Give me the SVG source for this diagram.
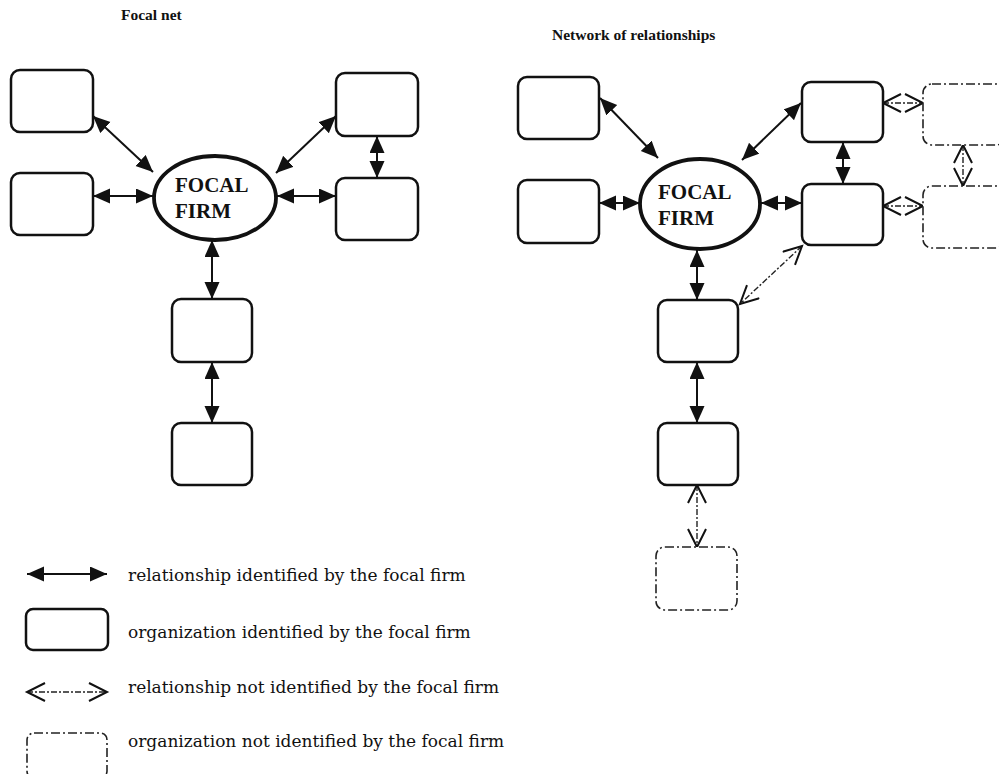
<svg xmlns="http://www.w3.org/2000/svg" width="999" height="774" viewBox="0 0 999 774">
  <defs>
    <style>
      .org { fill: #fff; stroke: #111; stroke-width: 2.5; }
      .ext { fill: #fff; stroke: #222; stroke-width: 1.6; stroke-dasharray: 9 3 2 3; }
      .focal { fill: #fff; stroke: #111; stroke-width: 3.8; }
      .rel { stroke: #111; stroke-width: 2; fill: none; marker-start: url(#solidHead); marker-end: url(#solidHead); }
      .ghost { stroke: #222; stroke-width: 1.4; fill: none; stroke-dasharray: 6 2 2 2; marker-start: url(#openHead); marker-end: url(#openHead); }
      .title { font-family: "Liberation Serif", "Times New Roman", serif; font-weight: bold; font-size: 15.5px; fill: #111; }
      .firm { font-family: "Liberation Serif", "Times New Roman", serif; font-weight: bold; font-size: 21px; fill: #111; }
      .legend { font-family: "DejaVu Serif", "Liberation Serif", serif; font-size: 17px; fill: #111; }
    </style>
    <!-- filled head for identified relationships -->
    <marker id="solidHead" markerUnits="userSpaceOnUse" markerWidth="18" markerHeight="16" refX="17" refY="7.5" orient="auto-start-reverse">
      <path d="M0,0 L17,7.5 L0,15 z" fill="#111"/>
    </marker>
    <!-- open chevron head for relationships outside the focal view -->
    <marker id="openHead" markerUnits="userSpaceOnUse" markerWidth="22" markerHeight="22" refX="19" refY="10" orient="auto-start-reverse">
      <path d="M1,1 L19,10 L1,19" fill="none" stroke="#111" stroke-width="2"/>
    </marker>
  </defs>

  <!-- headings -->
  <text class="title" x="121" y="20">Focal net</text>
  <text class="title" x="552" y="40">Network of relationships</text>

  <!-- connectors -->
  <g id="connectors">
    <!-- focal net -->
    <line class="rel" x1="93" y1="116" x2="153" y2="172"/>
    <line class="rel" x1="93" y1="196" x2="153" y2="196"/>
    <line class="rel" x1="276" y1="173" x2="336" y2="116"/>
    <line class="rel" x1="277" y1="196" x2="336" y2="196"/>
    <line class="rel" x1="377" y1="136" x2="377" y2="178"/>
    <line class="rel" x1="212" y1="240" x2="212" y2="299"/>
    <line class="rel" x1="212" y1="362" x2="212" y2="423"/>
    <!-- network of relationships -->
    <line class="rel" x1="600" y1="98" x2="658" y2="158"/>
    <line class="rel" x1="599" y1="203" x2="640" y2="203"/>
    <line class="rel" x1="742" y1="160" x2="801" y2="103"/>
    <line class="rel" x1="761" y1="203" x2="802" y2="203"/>
    <line class="rel" x1="843" y1="142" x2="843" y2="184"/>
    <line class="rel" x1="697" y1="250" x2="697" y2="300"/>
    <line class="rel" x1="697" y1="362" x2="697" y2="423"/>
    <line class="ghost" x1="883" y1="103" x2="923" y2="103"/>
    <line class="ghost" x1="883" y1="206" x2="923" y2="206"/>
    <line class="ghost" x1="963" y1="145" x2="963" y2="186"/>
    <line class="ghost" x1="802" y1="246" x2="740" y2="304"/>
    <line class="ghost" x1="697" y1="485" x2="697" y2="547"/>
  </g>

  <!-- focal net nodes -->
  <g id="fn-org-1"><rect class="org" x="11" y="70" width="82" height="62" rx="9"/></g>
  <g id="fn-org-2"><rect class="org" x="11" y="173" width="82" height="62" rx="9"/></g>
  <g id="fn-focal">
    <ellipse class="focal" cx="215" cy="198" rx="61" ry="42"/>
    <text class="firm" x="175" y="192">FOCAL</text>
    <text class="firm" x="175" y="218">FIRM</text>
  </g>
  <g id="fn-org-3"><rect class="org" x="336" y="73" width="82" height="63" rx="9"/></g>
  <g id="fn-org-4"><rect class="org" x="336" y="178" width="82" height="62" rx="9"/></g>
  <g id="fn-org-5"><rect class="org" x="172" y="299" width="80" height="63" rx="9"/></g>
  <g id="fn-org-6"><rect class="org" x="172" y="423" width="80" height="62" rx="9"/></g>

  <!-- network of relationships nodes -->
  <g id="nr-org-1"><rect class="org" x="518" y="77" width="81" height="62" rx="9"/></g>
  <g id="nr-org-2"><rect class="org" x="518" y="180" width="81" height="63" rx="9"/></g>
  <g id="nr-focal">
    <ellipse class="focal" cx="700" cy="204" rx="60" ry="45"/>
    <text class="firm" x="658" y="199">FOCAL</text>
    <text class="firm" x="658" y="225">FIRM</text>
  </g>
  <g id="nr-org-3"><rect class="org" x="802" y="82" width="81" height="60" rx="9"/></g>
  <g id="nr-org-4"><rect class="org" x="802" y="184" width="81" height="61" rx="9"/></g>
  <g id="nr-ext-1"><rect class="ext" x="923" y="84" width="82" height="61" rx="9"/></g>
  <g id="nr-ext-2"><rect class="ext" x="923" y="186" width="82" height="62" rx="9"/></g>
  <g id="nr-org-5"><rect class="org" x="658" y="300" width="80" height="62" rx="9"/></g>
  <g id="nr-org-6"><rect class="org" x="658" y="423" width="80" height="62" rx="9"/></g>
  <g id="nr-ext-3"><rect class="ext" x="656" y="547" width="81" height="63" rx="9"/></g>

  <!-- key -->
  <g id="key">
    <line class="rel" x1="27" y1="574" x2="107" y2="574"/>
    <text class="legend" x="128" y="581">relationship identified by the focal firm</text>
    <rect class="org" x="26" y="609" width="82" height="41" rx="7"/>
    <text class="legend" x="128" y="638">organization identified by the focal firm</text>
    <line class="ghost" x1="27" y1="692" x2="107" y2="692"/>
    <text class="legend" x="128" y="693">relationship not identified by the focal firm</text>
    <rect class="ext" x="27" y="733" width="80" height="45" rx="7"/>
    <text class="legend" x="128" y="747">organization not identified by the focal firm</text>
  </g>
</svg>
